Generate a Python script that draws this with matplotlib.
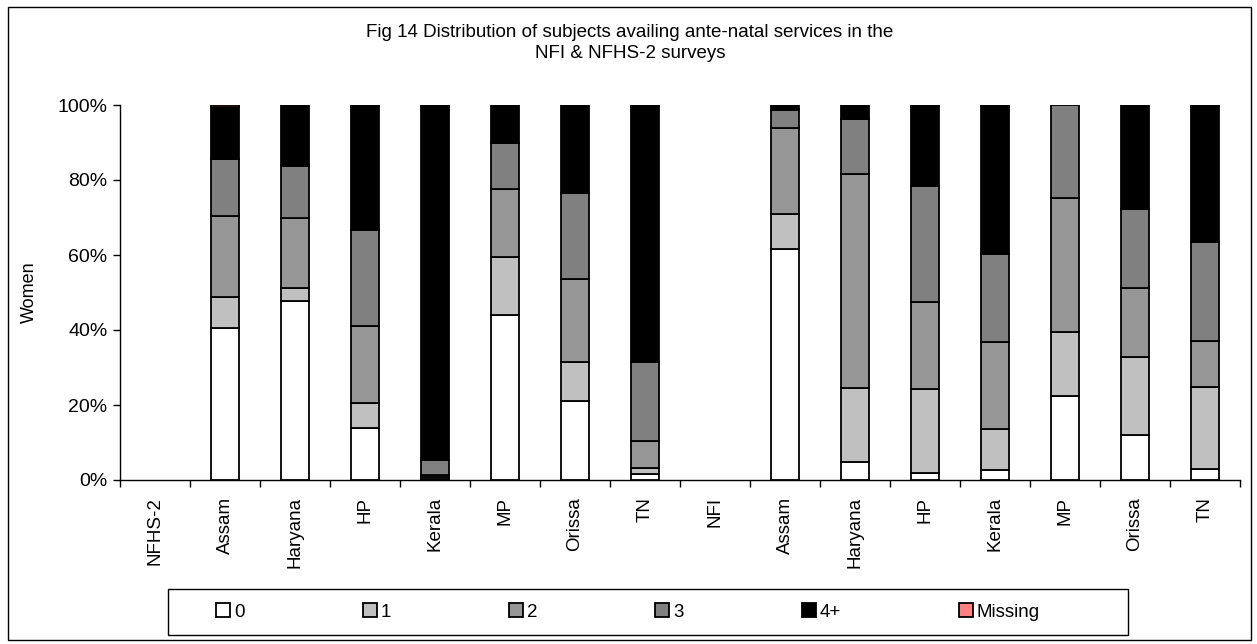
import matplotlib
matplotlib.use("Agg")
import matplotlib.pyplot as plt
from matplotlib.patches import Rectangle, Patch
from matplotlib.ticker import FixedLocator, PercentFormatter
import numpy as np

plt.rcParams["font.family"] = ["Liberation Sans", "DejaVu Sans"]

categories = ["NFHS-2", "Assam", "Haryana", "HP", "Kerala", "MP", "Orissa", "TN",
              "NFI", "Assam", "Haryana", "HP", "Kerala", "MP", "Orissa", "TN"]

series_names = ["0", "1", "2", "3", "4+", "Missing"]
series_colors = ["#FFFFFF", "#C0C0C0", "#969696", "#808080", "#000000", "#FF8080"]

# Percentage of women by number of ante-natal visits (group header columns are empty)
visits_0 = [0, 40.5, 47.8, 14.0, 0.4, 44.1, 21.0, 1.7,
            0, 61.6, 4.7, 1.8, 2.8, 22.5, 12.0, 3.0]
visits_1 = [0, 8.2, 3.5, 6.6, 0.4, 15.5, 10.5, 1.4,
            0, 9.3, 19.9, 22.4, 10.9, 17.1, 20.8, 21.8]
visits_2 = [0, 21.7, 18.7, 20.4, 0.6, 17.9, 22.1, 7.3,
            0, 23.0, 57.0, 23.4, 23.0, 35.5, 18.3, 12.2]
visits_3 = [0, 15.2, 13.7, 25.8, 4.0, 12.5, 23.0, 21.1,
            0, 4.8, 14.7, 30.9, 23.5, 24.9, 21.3, 26.5]
visits_4plus = [0, 13.8, 16.3, 33.2, 94.2, 10.0, 23.4, 68.5,
                0, 1.3, 3.7, 21.5, 39.8, 0, 27.6, 36.5]
missing = [0, 0.6, 0, 0, 0.4, 0, 0, 0,
           0, 0, 0, 0, 0, 0, 0, 0]

series = [visits_0, visits_1, visits_2, visits_3, visits_4plus, missing]

W, H = 1257, 644
fig = plt.figure(figsize=(W / 100, H / 100), dpi=100)
ax = fig.add_axes([120 / W, 1 - 480 / H, 1120 / W, 375 / H])

x = np.arange(len(categories))
bottom = np.zeros(len(categories))
for name, color, vals in zip(series_names, series_colors, series):
    vals = np.array(vals, dtype=float)
    shown = vals > 0
    ax.bar(x[shown], vals[shown], width=0.4, bottom=bottom[shown], color=color,
           edgecolor="black", linewidth=1.3, label=name, zorder=3)
    bottom += vals

ax.set_xlim(-0.5, len(categories) - 0.5)
ax.set_ylim(0, 100)
ax.yaxis.set_major_locator(FixedLocator([0, 20, 40, 60, 80, 100]))
ax.yaxis.set_major_formatter(PercentFormatter(decimals=0))

ax.set_xticks(x)
ax.set_xticklabels(categories, rotation=90, fontsize=13.5)
ax.xaxis.set_minor_locator(FixedLocator(np.arange(-0.5, len(categories), 1.0)))
ax.tick_params(axis="x", which="major", length=0, pad=12)
ax.tick_params(axis="x", which="minor", length=5, width=1, direction="out")
ax.tick_params(axis="y", length=5, width=1, direction="out", labelsize=14, pad=4)

for side in ("top", "right"):
    ax.spines[side].set_visible(False)
for side in ("left", "bottom"):
    ax.spines[side].set_linewidth(1)

ax.set_ylabel("Women", fontsize=13, labelpad=14)

fig.text(630 / W, 1 - 43 / H,
         "Fig 14 Distribution of subjects availing ante-natal services in the\nNFI & NFHS-2 surveys",
         ha="center", va="center", fontsize=13.5, linespacing=1.25)

handles = [Patch(facecolor=c, edgecolor="black", linewidth=1.3) for c in series_colors]
leg = fig.legend(handles, series_names, loc="center",
                 bbox_to_anchor=(628 / W, 1 - 612 / H), ncol=6,
                 fontsize=13.5, frameon=False,
                 handlelength=0.75, handleheight=0.75, handletextpad=0.2,
                 columnspacing=6.3, borderpad=0, borderaxespad=0)

# Legend box and chart-area border
fig.patches.append(Rectangle((168 / W, 1 - 635 / H), 960 / W, 46 / H, transform=fig.transFigure,
                             fill=False, edgecolor="black", linewidth=1))
fig.patches.append(Rectangle((8 / W, 4 / H), 1243 / W, 633 / H, transform=fig.transFigure,
                             fill=False, edgecolor="black", linewidth=1))

fig.savefig("out.png", dpi=100)
